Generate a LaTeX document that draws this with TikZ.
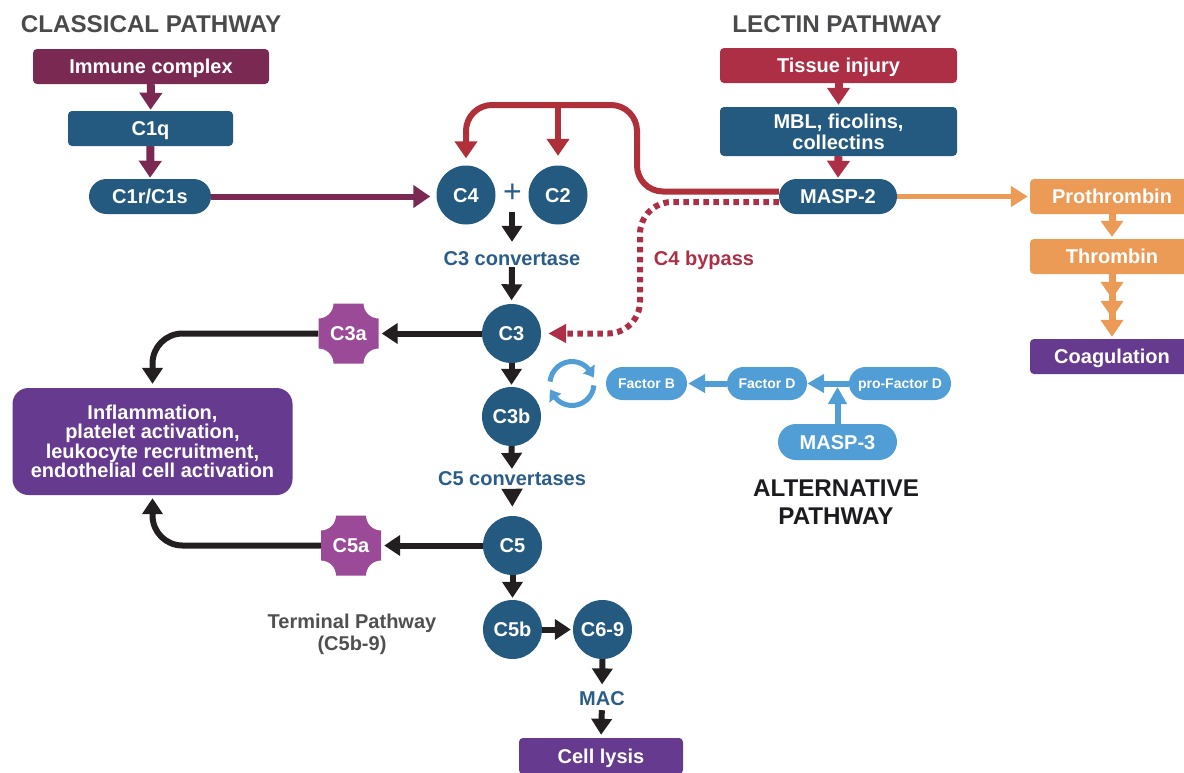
\documentclass[tikz,border=0pt]{standalone}
\usepackage{fontspec}
\setmainfont{Liberation Sans}
\usetikzlibrary{arrows.meta,bending,shapes.misc}
\pgfdeclarelayer{bg}
\pgfsetlayers{bg,main}

\definecolor{navy}{HTML}{245A80}
\definecolor{maroon}{HTML}{7A2953}
\definecolor{crimson}{HTML}{AD2F46}
\definecolor{redpath}{HTML}{B0303A}
\definecolor{orng}{HTML}{EB9B56}
\definecolor{violet}{HTML}{663A8E}
\definecolor{plum}{HTML}{9A4A96}
\definecolor{sky}{HTML}{519ED6}
\definecolor{ink}{HTML}{231F20}
\definecolor{txtblue}{HTML}{2A5D8A}
\definecolor{titlegray}{HTML}{4A4A4C}
\definecolor{termgray}{HTML}{505050}
\definecolor{alttitle}{HTML}{1C1C20}

\tikzset{
  lbl/.style={font=\fontsize{20}{19.5}\selectfont\bfseries, text=white, align=center,
    inner sep=0pt, text height=14.4pt, text depth=0pt},
  lblm/.style={font=\fontsize{20}{19.5}\selectfont\bfseries, text=white, align=center, inner sep=0pt},
  box/.style={lbl, rectangle, rounded corners=4pt, minimum height=35pt},
  pill/.style={lbl, rounded rectangle, minimum height=35pt},
  pillS/.style={rounded rectangle, minimum height=33pt, inner sep=0pt, text=white,
    font=\fontsize{14}{16}\selectfont\bfseries, text height=10pt, text depth=0pt},
  ball/.style={lbl, circle, fill=navy, minimum size=59pt},
  title/.style={anchor=base, inner sep=0pt, font=\fontsize{24.2}{28}\selectfont\bfseries, text=titlegray},
  note/.style={anchor=base, inner sep=0pt, font=\fontsize{20}{22}\selectfont\bfseries,
    text height=14.4pt, text depth=0pt},
  blk/.style={draw=ink, line width=6pt, -{Triangle[width=20pt,length=16pt]}},
  marv/.style={draw=maroon, line width=8pt, -{Triangle[width=22pt,length=17pt]}},
  redv/.style={draw=crimson, line width=8pt, -{Triangle[width=22pt,length=17pt]}},
  redline/.style={draw=redpath, line width=6pt, -{Triangle[width=22pt,length=17pt]}},
  dotline/.style={draw=crimson, line width=6pt, dash pattern=on 5.5pt off 4.5pt,
    -{Triangle[width=18pt,length=18pt]}},
  orv/.style={draw=orng, line width=7pt},
  skyarr/.style={draw=sky, line width=6pt, -{Triangle[width=18pt,length=17pt]}},
  cycarr/.style={draw=sky, line width=5pt, -{Triangle[width=14pt,length=10pt,bend]}},
  anashape/.pic={
    \fill[plum] (-15,-30) -- (15,-30) arc[start angle=180,end angle=270,radius=15pt]
      -- (30,15) arc[start angle=90,end angle=180,radius=15pt]
      -- (-15,30) arc[start angle=0,end angle=90,radius=15pt]
      -- (-30,-15) arc[start angle=-90,end angle=0,radius=15pt] -- cycle;
  }
}

\begin{document}
\begin{tikzpicture}[x=1pt,y=-1pt]
\useasboundingbox (0,0) rectangle (1184,772);
\clip (0,0) rectangle (1184,772);

% pathway headings
\node[title] (tclass) at (151,32) {CLASSICAL PATHWAY};
\node[title] (tlectin) at (837,32) {LECTIN PATHWAY};
\node[inner sep=0pt, align=center, text=alttitle,
      font=\fontsize{24.2}{28}\selectfont\bfseries] (talt) at (836,502.5) {ALTERNATIVE\\PATHWAY};

% classical pathway
\node[box, fill=maroon, minimum width=236pt] (immune) at (151,66.5) {Immune complex};
\node[box, fill=navy, minimum width=165pt] (c1q) at (150.5,128.5) {C1q};
\node[pill, fill=navy, minimum width=122pt] (c1r) at (150,196.5) {C1r/C1s};

% lectin pathway
\node[box, fill=crimson, minimum width=237pt] (tissue) at (838.5,65.5) {Tissue injury};
\node[lblm, rectangle, rounded corners=4pt, fill=navy, minimum width=237pt, minimum height=49pt,
      font=\fontsize{20}{21}\selectfont\bfseries] (mbl) at (838.5,131.5) {MBL, ficolins,\\collectins};
\node[pill, fill=navy, minimum width=118pt] (masp2) at (838,196.5) {MASP-2};

% coagulation branch
\node[box, fill=orng, minimum width=164pt] (prot) at (1112,196.5) {Prothrombin};
\node[box, fill=orng, minimum width=164pt] (thr) at (1112,256.5) {Thrombin};
\node[box, fill=violet, minimum width=164pt] (coag) at (1112,356.5) {Coagulation};

% central cascade
\node[ball] (c4) at (466,195) {C4};
\node[ball] (c2) at (558,195) {C2};
\node[inner sep=0pt, text=txtblue, font=\fontsize{32}{32}\selectfont] (plus) at (512.5,193) {+};
\node[note, text=txtblue] (conv3) at (512,265) {C3 convertase};
\node[ball] (c3) at (511.5,333.5) {C3};
\node[ball] (c3b) at (511.5,416.5) {C3b};
\node[note, text=txtblue] (conv5) at (512,485) {C5 convertases};
\node[ball] (c5) at (512.5,545.5) {C5};
\node[ball] (c5b) at (512.5,629.5) {C5b};
\node[ball] (c69) at (602.5,629.5) {C6-9};
\node[note, text=txtblue] (mac) at (602,705) {MAC};
\node[box, fill=violet, minimum width=164pt, minimum height=36pt] (lysis) at (601,756) {Cell lysis};
\node[note, text=crimson] (bypass) at (704,265) {C4 bypass};

% anaphylatoxins
\pic at (348.5,333.5) {anashape};
\node[lbl, minimum size=60pt] (c3a) at (348.5,333.5) {C3a};
\pic at (351,545.5) {anashape};
\node[lbl, minimum size=60pt] (c5a) at (351,545.5) {C5a};

\node[lblm, rectangle, rounded corners=16pt, fill=violet, minimum width=280pt, minimum height=107pt]
  (inflam) at (152.5,441.5)
  {Inflammation,\\platelet activation,\\leukocyte recruitment,\\endothelial cell activation};

\node[inner sep=0pt, align=center, text=termgray, font=\fontsize{20}{22}\selectfont\bfseries]
  (term) at (352,634) {Terminal Pathway\\(C5b-9)};

% alternative pathway
\node[pillS, fill=sky, minimum width=81pt] (facb) at (646.5,383.5) {Factor B};
\node[pillS, fill=sky, minimum width=80pt] (facd) at (767,383.5) {Factor D};
\node[pillS, fill=sky, minimum width=102pt] (profd) at (900,383.5) {pro-Factor D};
\node[pill, fill=sky, minimum width=119pt, minimum height=36pt] (masp3) at (837.5,442) {MASP-3};

% bends and junctions of the connectors
\coordinate (pairC) at (512,212);
\coordinate (rA) at (637,191.5);
\coordinate (rB) at (637,105);
\coordinate (rC) at (466,105);
\coordinate (rS) at (558,105);
\coordinate (dA) at (640,202);
\coordinate (dB) at (640,333.5);
\coordinate (jn) at (masp3.north |- profd.west);
\coordinate (cyc) at (572,383.5);

\begin{pgfonlayer}{bg}
% classical
\draw[marv, shorten >=1pt] (immune.south) -- (c1q.north);
\draw[marv, shorten >=1pt] (c1q.south) -- (c1r.north);
\draw[draw=maroon, line width=6pt, -{Triangle[width=22pt,length=17pt]}, shorten >=6pt]
  (c1r.east) -- (c1r.east -| c4.west);
% lectin
\draw[redv, shorten >=2pt] (tissue.south) -- (mbl.north);
\draw[redv, shorten >=1pt] (mbl.south) -- (masp2.north);
\draw[redline, rounded corners=26pt, shorten >=7pt]
  ([yshift=5pt]masp2.west) -- (rA) -- (rB) -- (rC) -- (c4.north);
\draw[redline, shorten >=9.5pt] (rS) -- (c2.north);
\draw[dotline, rounded corners=32pt, shorten >=7pt]
  ([yshift=-5.5pt]masp2.west) -- (dA) -- (dB) -- (c3.east);
% coagulation
\draw[orv, -{Triangle[width=20pt,length=17pt]}, line width=5pt, shorten >=2pt] (masp2.east) -- (prot.west);
\draw[orv, -{Triangle[width=22pt,length=16pt]}, shorten >=2pt] (prot.south) -- (thr.north);
\draw[orv, -{Triangle[width=22pt,length=17pt,sep=2pt]Triangle[width=22pt,length=17pt,sep=2pt]Triangle[width=22pt,length=17pt]},
  shorten >=2pt] (thr.south) -- (coag.north);
% cascade
\draw[blk, shorten >=8.6pt] (pairC) -- (conv3.north);
\draw[blk, shorten <=2pt, shorten >=3.5pt] (conv3.south) -- (c3.north);
\draw[blk, shorten >=2pt] (c3.south) -- (c3b.north);
\draw[blk, shorten >=1.5pt] (c3b.south) -- (conv5.north);
\draw[blk, -{Triangle[width=20pt,length=18pt]}, shorten <=4pt, shorten >=9pt] (conv5.south) -- (c5.north);
\draw[blk, shorten >=2pt] (c5.south) -- (c5b.north);
\draw[blk, shorten >=2pt] (c5b.east) -- (c69.west);
\draw[blk, shorten >=6pt] (c69.south) -- (mac.north);
\draw[blk, shorten <=5pt, shorten >=3pt] (mac.south) -- (lysis.north);
\draw[blk, shorten >=3pt] (c3.west) -- (c3a.east);
\draw[blk, shorten >=3pt] (c5.west) -- (c5a.east);
\draw[blk, rounded corners=30pt, shorten >=4pt] (c3a.west) -- (inflam.north |- c3a.west) -- (inflam.north);
\draw[blk, rounded corners=30pt, shorten >=3pt] (c5a.west) -- (inflam.south |- c5a.west) -- (inflam.south);
% alternative
\draw[skyarr, shorten >=1pt] (facd.west) -- (facb.east);
\draw[skyarr] (profd.west) -- (facd.east);
\draw[skyarr, shorten >=3.5pt] (masp3.north) -- (jn);
\draw[cycarr] ([shift={(175:22pt)}]cyc) arc[start angle=175,end angle=15,radius=22pt];
\draw[cycarr] ([shift={(-5:22pt)}]cyc) arc[start angle=-5,end angle=-165,radius=22pt];
\end{pgfonlayer}
\end{tikzpicture}
\end{document}
